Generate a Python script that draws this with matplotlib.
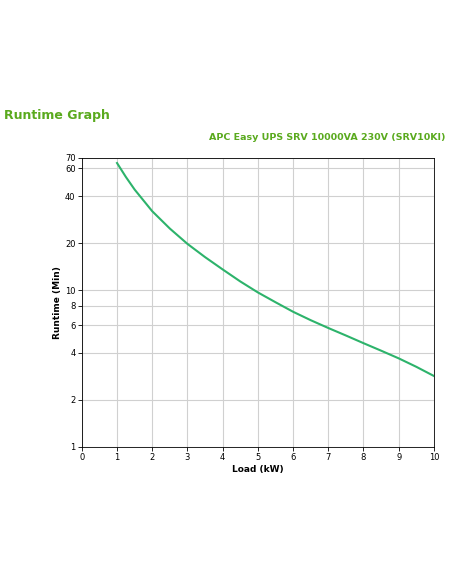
import matplotlib
matplotlib.use("Agg")
import matplotlib.pyplot as plt
from matplotlib.ticker import FixedLocator, NullLocator, FixedFormatter

load_kw = [1, 1.25, 1.5, 2, 2.5, 3, 3.5, 4, 4.5, 5, 5.5, 6, 6.5, 7, 7.5, 8, 8.5, 9, 9.5, 10]
runtime_min = [65, 53, 44, 32, 24.8, 19.8, 16.3, 13.6, 11.4, 9.7, 8.4, 7.3, 6.45, 5.75, 5.15, 4.6, 4.12, 3.68, 3.25, 2.84]
yticks = [1, 2, 4, 6, 8, 10, 20, 40, 60, 70]
xticks = list(range(0, 11))

fig = plt.figure(figsize=(4.52, 5.84), dpi=100)
ax = fig.add_axes([0.181, 0.2346, 0.779, 0.4949])
ax.plot(load_kw, runtime_min, color="#2db36b", lw=1.5)
ax.set_yscale("log")
ax.set_xlim(0, 10)
ax.set_ylim(1, 70)
ax.yaxis.set_major_locator(FixedLocator(yticks))
ax.yaxis.set_major_formatter(FixedFormatter([str(t) for t in yticks]))
ax.yaxis.set_minor_locator(NullLocator())
ax.set_xticks(xticks)
ax.grid(True, color="#d0d0d0", lw=0.8)
ax.tick_params(labelsize=6, length=3, width=0.6, pad=1.5)
for s in ax.spines.values():
    s.set_linewidth(0.6)
ax.set_xlabel("Load (kW)", fontsize=6.5, fontweight="bold", labelpad=2)
ax.set_ylabel("Runtime (Min)", fontsize=6.5, fontweight="bold", labelpad=2)
fig.text(4/452, 1-115/584, "Runtime Graph", color="#5aaa1e", fontsize=9,
         fontweight="bold", va="center", ha="left")
fig.text(446/452, 1-138/584, "APC Easy UPS SRV 10000VA 230V (SRV10KI)", color="#5aaa1e",
         fontsize=6.8, fontweight="bold", va="center", ha="right")
fig.savefig("out.png", dpi=100)
